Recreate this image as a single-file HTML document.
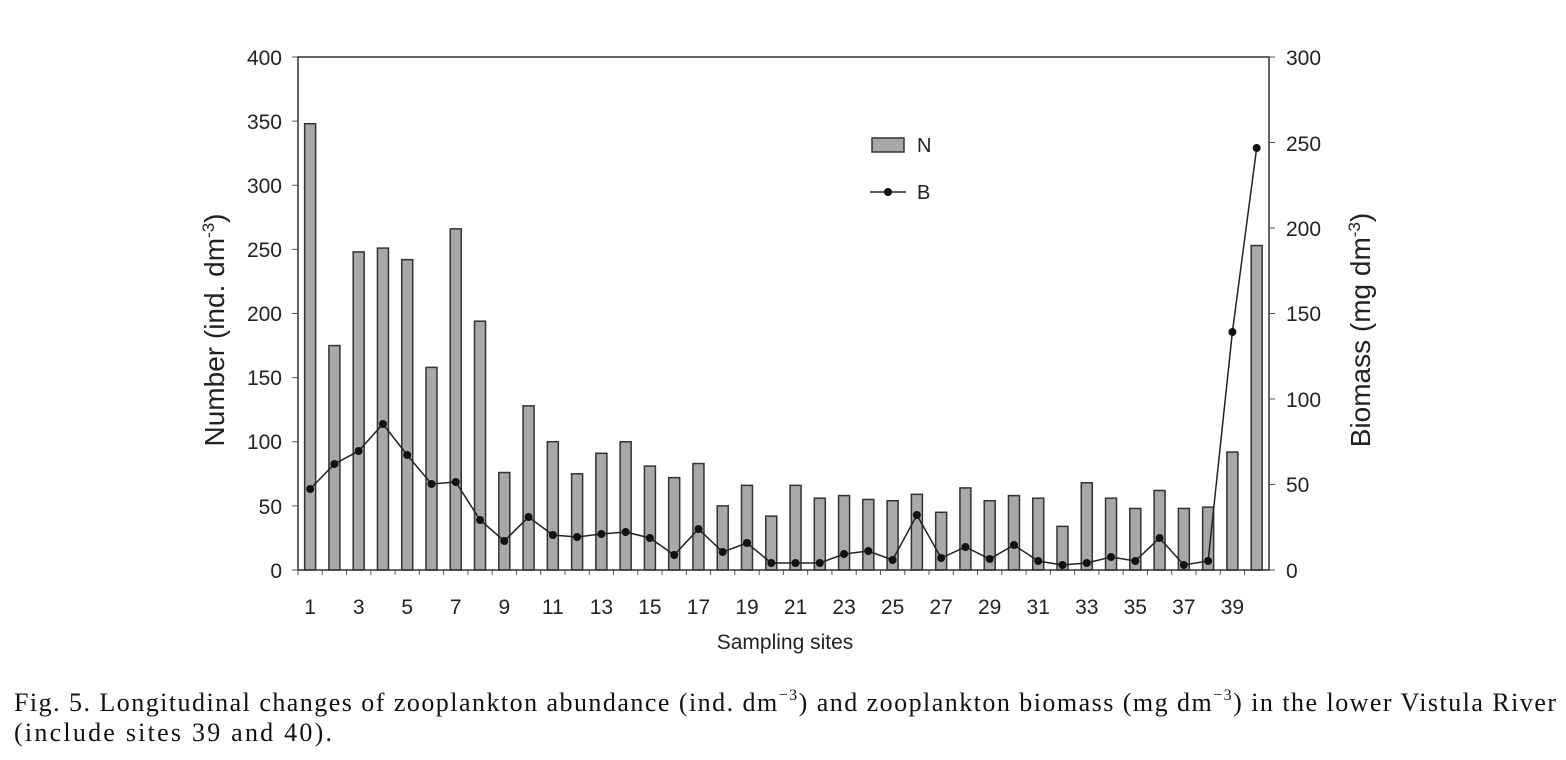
<!DOCTYPE html>
<html><head><style>
body{margin:0;background:#fff;}
svg{display:block;}
</style></head><body>
<svg width="1566" height="760" xmlns="http://www.w3.org/2000/svg">
<rect width="1566" height="760" fill="#fff"/>
<g font-family="Liberation Sans, Arial, sans-serif" font-size="21" fill="#222">
<text x="282" y="65" text-anchor="end">400</text>
<text x="282" y="129" text-anchor="end">350</text>
<text x="282" y="193" text-anchor="end">300</text>
<text x="282" y="257" text-anchor="end">250</text>
<text x="282" y="321" text-anchor="end">200</text>
<text x="282" y="385" text-anchor="end">150</text>
<text x="282" y="449" text-anchor="end">100</text>
<text x="282" y="514" text-anchor="end">50</text>
<text x="282" y="578" text-anchor="end">0</text>
<text x="1286" y="65">300</text>
<text x="1286" y="151">250</text>
<text x="1286" y="236">200</text>
<text x="1286" y="321">150</text>
<text x="1286" y="407">100</text>
<text x="1286" y="492">50</text>
<text x="1286" y="578">0</text>
<text x="785" y="649" text-anchor="middle" font-size="21">Sampling sites</text>
<text transform="translate(224,330) rotate(-90)" text-anchor="middle" font-size="28">Number (ind. dm<tspan font-size="17" dy="-10">-3</tspan><tspan dy="10">)</tspan></text>
<text transform="translate(1370,330) rotate(-90)" text-anchor="middle" font-size="28">Biomass (mg dm<tspan font-size="17" dy="-10">-3</tspan><tspan dy="10">)</tspan></text>
<text x="917" y="152" font-size="20">N</text>
<text x="917" y="199" font-size="20">B</text>
</g>
<rect x="872" y="138" width="32" height="14" fill="#a8a8a8" stroke="#333" stroke-width="1.5"/>
<line x1="870" y1="192" x2="906" y2="192" stroke="#222" stroke-width="1.5"/>
<circle cx="888" cy="192" r="4" fill="#111"/>
<g id="bars" fill="#a8a8a8" stroke="#333" stroke-width="1.5"></g>
<polyline id="line" fill="none" stroke="#222" stroke-width="1.5"/>
<g id="dots" fill="#111"></g>
<g id="xl" font-family="Liberation Sans, Arial, sans-serif" font-size="21" fill="#222" text-anchor="middle"></g>
<g id="ticks" stroke="#555" stroke-width="1"></g>
<rect x="298" y="57" width="971" height="513" fill="none" stroke="#333" stroke-width="1.5"/>
<g font-family="Liberation Serif, serif" font-size="26" fill="#111">
<text x="14" y="711" textLength="1542" lengthAdjust="spacing">Fig. 5. Longitudinal changes of zooplankton abundance (ind. dm<tspan font-size="16" dy="-11">−3</tspan><tspan dy="11">) and zooplankton biomass (mg dm</tspan><tspan font-size="16" dy="-11">−3</tspan><tspan dy="11">) in the lower Vistula River</tspan></text>
<text x="14" y="741" textLength="318" lengthAdjust="spacing">(include sites 39 and 40).</text>
</g>
</svg>
<script>
var N=[348,175,248,251,242,158,266,194,76,128,100,75,91,100,81,72,83,50,66,42,66,56,58,55,54,59,45,64,54,58,56,34,68,56,48,62,48,49,92,253];
var B=[489,464,451,424,455,484,482,520,541,517,535,537,534,532,538,555,529,552,543,563,563,563,554,551,560,515,558,547,559,545,561,565,563,557,561,538,565,561,332,148];
var ns="http://www.w3.org/2000/svg";
var g=document.getElementById('bars'),d=document.getElementById('dots'),xl=document.getElementById('xl'),tk=document.getElementById('ticks');
var pts=[];
for(var i=0;i<40;i++){
 var cx=298+24.27*(i+0.5);
 var h=N[i]*513/400;
 var r=document.createElementNS(ns,'rect');
 r.setAttribute('x',cx-5.5);r.setAttribute('y',570-h);r.setAttribute('width',11);r.setAttribute('height',h);
 g.appendChild(r);
 var c=document.createElementNS(ns,'circle');
 c.setAttribute('cx',cx);c.setAttribute('cy',B[i]);c.setAttribute('r',4);d.appendChild(c);
 pts.push(cx+','+B[i]);
 if(i%2==0){var t=document.createElementNS(ns,'text');t.setAttribute('x',cx);t.setAttribute('y',614);t.textContent=i+1;xl.appendChild(t);}
 var l=document.createElementNS(ns,'line');var tx=298+24.27*i;
 l.setAttribute('x1',tx);l.setAttribute('x2',tx);l.setAttribute('y1',570);l.setAttribute('y2',575);tk.appendChild(l);
}
document.getElementById('line').setAttribute('points',pts.join(' '));
for(var j=0;j<=8;j++){var y=570-j*64.125;var l=document.createElementNS(ns,'line');l.setAttribute('x1',292);l.setAttribute('x2',298);l.setAttribute('y1',y);l.setAttribute('y2',y);tk.appendChild(l);}
for(var j=0;j<=6;j++){var y=570-j*85.5;var l=document.createElementNS(ns,'line');l.setAttribute('x1',1269);l.setAttribute('x2',1275);l.setAttribute('y1',y);l.setAttribute('y2',y);tk.appendChild(l);}
</script>
</body></html>
